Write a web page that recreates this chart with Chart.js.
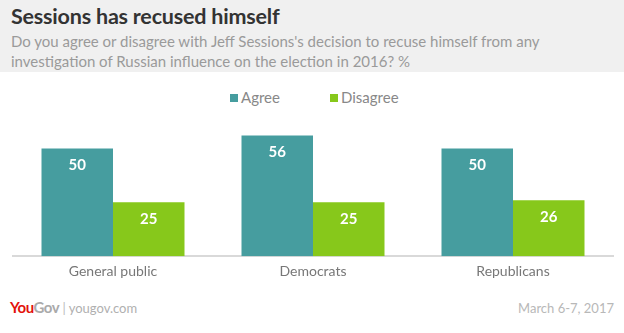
<!DOCTYPE html>
<html><head><meta charset="utf-8">
<script src="https://cdn.jsdelivr.net/npm/chart.js@4"></script>
<style>
html,body{margin:0;padding:0;background:#fff;width:624px;height:333px;overflow:hidden;font-family:"Open Sans",Lato,sans-serif;}
#hdr{position:absolute;left:0;top:0;width:624px;height:72px;background:#f0f0f0;}
#title{position:absolute;left:11px;top:3px;font:bold 21.5px Lato,"Open Sans",sans-serif;color:#333;letter-spacing:-0.2px;}
#sub{position:absolute;left:11px;top:31px;width:610px;font:15px Lato,"Open Sans",sans-serif;color:#9a9a9a;line-height:20px;}
#legend{position:absolute;left:0;top:87px;width:624px;height:20px;font:15px Lato,"Open Sans",sans-serif;color:#888;}
#legend span.b{position:absolute;top:7px;width:8px;height:8px;}
#legend span.t{position:absolute;top:1px;}
#wrap{position:absolute;left:0;top:110px;width:624px;height:180px;}
#foot{position:absolute;left:10px;top:298px;font:13px Lato,sans-serif;color:#b0b0b0;}
#foot .y{color:#e3120b;font-weight:bold;font-size:15px;letter-spacing:-0.5px}
#foot .g{color:#aaa;font-weight:bold;font-size:15px;letter-spacing:-0.5px}
#date{position:absolute;right:10px;top:300px;font:13px Lato,sans-serif;color:#b8b8b8;}
</style></head><body>
<div id="hdr"></div>
<div id="title">Sessions has recused himself</div>
<div id="sub">Do you agree or disagree with Jeff Sessions's decision to recuse himself from any investigation of Russian influence on the election in 2016? %</div>
<div id="legend"></div>
<div id="wrap"><canvas id="c" width="624" height="180"></canvas></div>
<div id="foot"><span class="y">You</span><span class="g">Gov</span> <span style="color:#bbb">|</span> yougov.com</div>
<div id="date">March 6-7, 2017</div>
<script>
const categories = ["General public", "Democrats", "Republicans"];
const agree = [50, 56, 50];
const disagree = [25, 25, 26];
const seriesNames = ["Agree", "Disagree"];
const colors = ["#469d9f", "#87c81b"];

// HTML legend
const legendX = [230, 330];
const lg = document.getElementById("legend");
seriesNames.forEach((n, i) => {
  const b = document.createElement("span");
  b.className = "b"; b.style.left = legendX[i] + "px"; b.style.background = colors[i];
  const t = document.createElement("span");
  t.className = "t"; t.style.left = (legendX[i] + 11) + "px"; t.textContent = n;
  lg.appendChild(b); lg.appendChild(t);
});

const valueLabels = {
  id: "valueLabels",
  afterDatasetsDraw(chart) {
    const ctx = chart.ctx;
    ctx.save();
    ctx.fillStyle = "#fff";
    ctx.font = "bold 15px Lato, 'Open Sans', sans-serif";
    ctx.textAlign = "center";
    ctx.textBaseline = "middle";
    chart.data.datasets.forEach((ds, i) => {
      chart.getDatasetMeta(i).data.forEach((bar, j) => {
        ctx.fillText(String(ds.data[j]), bar.x, bar.y + 17);
      });
    });
    ctx.restore();
  }
};

new Chart(document.getElementById("c"), {
  type: "bar",
  data: {
    labels: categories,
    datasets: [
      { label: seriesNames[0], data: agree, backgroundColor: colors[0] },
      { label: seriesNames[1], data: disagree, backgroundColor: colors[1] }
    ]
  },
  options: {
    responsive: false,
    animation: false,
    layout: { padding: { left: 13, right: 11, top: 17, bottom: 3 } },
    datasets: { bar: { categoryPercentage: 0.715, barPercentage: 1.0 } },
    plugins: {
      legend: { display: false },
      tooltip: { enabled: false }
    },
    scales: {
      x: {
        grid: { display: false, drawTicks: false },
        border: { color: "#d9d9d9", width: 2 },
        ticks: { color: "#777", padding: 7, font: { family: "Lato, 'Open Sans', sans-serif", size: 14 } }
      },
      y: { display: false, min: 0, max: 60 }
    }
  },
  plugins: [valueLabels]
});
</script>
</body></html>
